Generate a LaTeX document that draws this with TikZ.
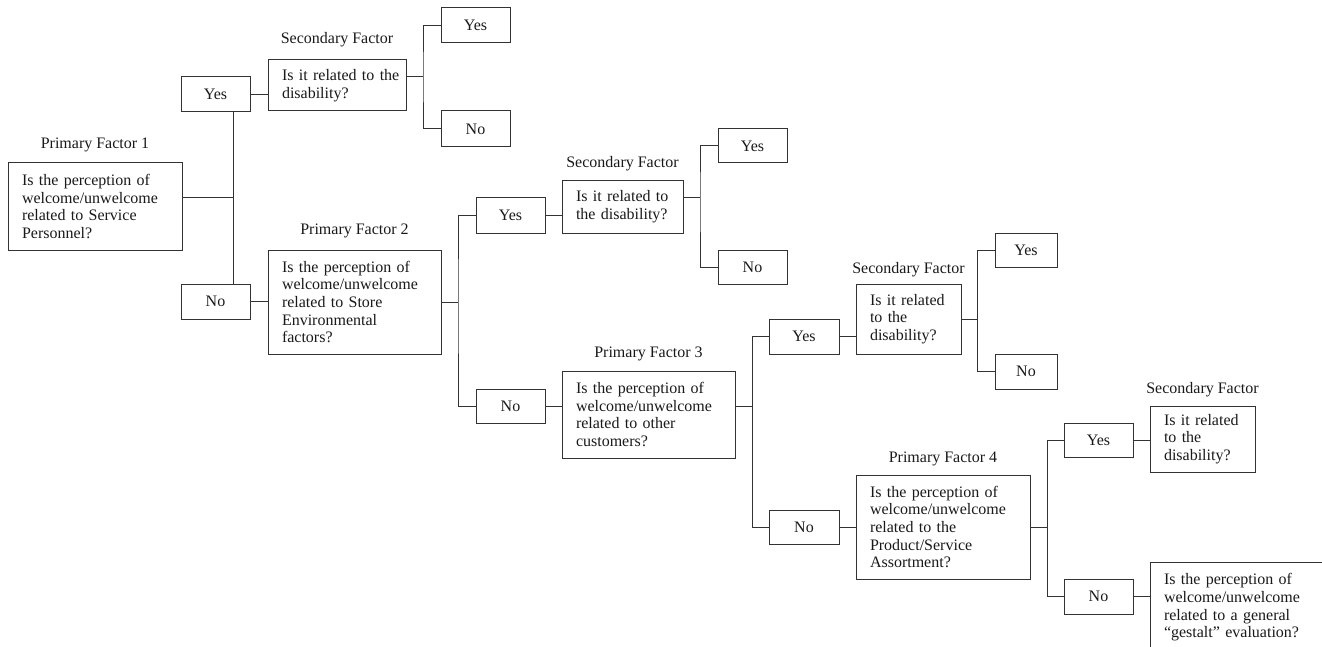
\documentclass[tikz,border=0pt]{standalone}
\usepackage{fontspec}
\setmainfont{Liberation Serif}
\usetikzlibrary{calc}
\newcommand\Lm[1]{\mbox{#1}}
\begin{document}
\begin{tikzpicture}[x=1pt,y=-1pt,
  every node/.style={font=\fontsize{16}{17.7}\selectfont, text=black!90},
  qbox/.style={draw=black!80, line width=1pt, anchor=north west, inner xsep=14pt, inner ysep=0pt, outer sep=0pt, align=left},
  abox/.style={draw=black!80, line width=1pt, anchor=north west, inner sep=0pt, outer sep=0pt, minimum height=35pt, minimum width=69pt},
  lab/.style={anchor=base, inner sep=0pt},
  conn/.style={draw=black!80, line width=1pt}]
\useasboundingbox (0,0) rectangle (1322,647);
\clip (0,0) rectangle (1322,647);

% question boxes
\node[qbox, text width=146pt, minimum width=174pt, minimum height=87pt] (pf1) at (8,163)
  {\Lm{Is the perception of}\\\Lm{welcome/unwelcome}\\\Lm{related to Service}\\\Lm{Personnel?}};
\node[qbox, text width=110pt, minimum width=138pt, minimum height=51pt] (s1) at (268,60)
  {\Lm{Is it related to the}\\\Lm{disability?}};
\node[qbox, text width=145pt, minimum width=173pt, minimum height=104pt] (pf2) at (268,250)
  {\Lm{Is the perception of}\\\Lm{welcome/unwelcome}\\\Lm{related to Store}\\\Lm{Environmental}\\\Lm{factors?}};
\node[qbox, text width=93pt, minimum width=121pt, minimum height=52pt] (s2) at (562,181)
  {\Lm{Is it related to}\\\Lm{the disability?}};
\node[qbox, text width=145pt, minimum width=173pt, minimum height=87pt] (pf3) at (562,371)
  {\Lm{Is the perception of}\\\Lm{welcome/unwelcome}\\\Lm{related to other}\\\Lm{customers?}};
\node[qbox, text width=77pt, minimum width=105pt, minimum height=70pt] (s3) at (856,284)
  {\Lm{Is it related}\\\Lm{to the}\\\Lm{disability?}};
\node[qbox, text width=146pt, minimum width=174pt, minimum height=104pt] (pf4) at (856,475)
  {\Lm{Is the perception of}\\\Lm{welcome/unwelcome}\\\Lm{related to the}\\\Lm{Product/Service}\\\Lm{Assortment?}};
\node[qbox, text width=77pt, minimum width=105pt, minimum height=66pt] (s4) at (1150,406)
  {\Lm{Is it related}\\\Lm{to the}\\\Lm{disability?}};
\node[qbox, text width=162pt, minimum width=190pt, minimum height=91pt] (last) at (1150,562)
  {\Lm{Is the perception of}\\\Lm{welcome/unwelcome}\\\Lm{related to a general}\\\Lm{“gestalt” evaluation?}};

% answer boxes
\node[abox] (y1) at (181,77) {Yes};
\node[abox] (n1) at (181,284) {No};
\node[abox, minimum height=35.5pt] (y1a) at (441,7.5) {Yes};
\node[abox, minimum height=36pt] (n1a) at (441,111) {No};
\node[abox] (y2) at (476,198) {Yes};
\node[abox, minimum height=34pt] (n2) at (476,389) {No};
\node[abox, minimum height=34pt] (y2a) at (718,129) {Yes};
\node[abox, minimum height=34pt] (n2a) at (718,250) {No};
\node[abox, minimum width=70pt] (y3) at (769,319) {Yes};
\node[abox, minimum width=70pt, minimum height=34pt] (n3) at (769,510) {No};
\node[abox, minimum width=62pt, minimum height=34pt] (y3a) at (995,233) {Yes};
\node[abox, minimum width=62pt] (n3a) at (995,354) {No};
\node[abox, minimum height=34pt] (y4) at (1064,423) {Yes};
\node[abox] (n4) at (1064,579) {No};

% labels
\node[lab] (l1) at (pf1.north |- 0,148.5) {Primary Factor 1};
\node[lab] (l2) at (s1.north |- 0,43.5) {Secondary Factor};
\node[lab] (l3) at (pf2.north |- 0,234.5) {Primary Factor 2};
\node[lab] (l4) at (s2.north |- 0,167.5) {Secondary Factor};
\node[lab] (l5) at (pf3.north |- 0,357.5) {Primary Factor 3};
\node[lab] (l6) at (s3.north |- 0,273.5) {Secondary Factor};
\node[lab] (l7) at (pf4.north |- 0,462.5) {Primary Factor 4};
\node[lab] (l8) at (s4.north |- 0,393.5) {Secondary Factor};

% fork points
\coordinate (f0) at (233,198);
\coordinate (f1) at (423,77);
\coordinate (f2) at (458,302);
\coordinate (f3) at (700,198);
\coordinate (f4) at (752,406);
\coordinate (f5) at (977,319);
\coordinate (f6) at (1047,527);

% connectors
\draw[conn] (pf1.east |- f0) -- (f0);
\draw[conn] (f0 |- y1.south) -- (f0 |- n1.north);
\draw[conn] (y1.east) -- (s1.west |- y1.east);
\draw[conn] (n1.east) -- (pf2.west |- n1.east);

\draw[conn] (s1.east |- f1) -- (f1);
\draw[conn] (y1a.west) -| (f1) |- (n1a.west);

\draw[conn] (pf2.east |- f2) -- (f2);
\draw[conn] (y2.west) -| (f2) |- (n2.west);
\draw[conn] (y2.east) -- (s2.west |- y2.east);
\draw[conn] (n2.east) -- (pf3.west |- n2.east);

\draw[conn] (s2.east |- f3) -- (f3);
\draw[conn] (y2a.west) -| (f3) |- (n2a.west);

\draw[conn] (pf3.east |- f4) -- (f4);
\draw[conn] (y3.west) -| (f4) |- (n3.west);
\draw[conn] (y3.east) -- (s3.west |- y3.east);
\draw[conn] (n3.east) -- (pf4.west |- n3.east);

\draw[conn] (s3.east |- f5) -- (f5);
\draw[conn] (y3a.west) -| (f5) |- (n3a.west);

\draw[conn] (pf4.east |- f6) -- (f6);
\draw[conn] (y4.west) -| (f6) |- (n4.west);
\draw[conn] (y4.east) -- (s4.west |- y4.east);
\draw[conn] (n4.east) -- (last.west |- n4.east);
\end{tikzpicture}
\end{document}
